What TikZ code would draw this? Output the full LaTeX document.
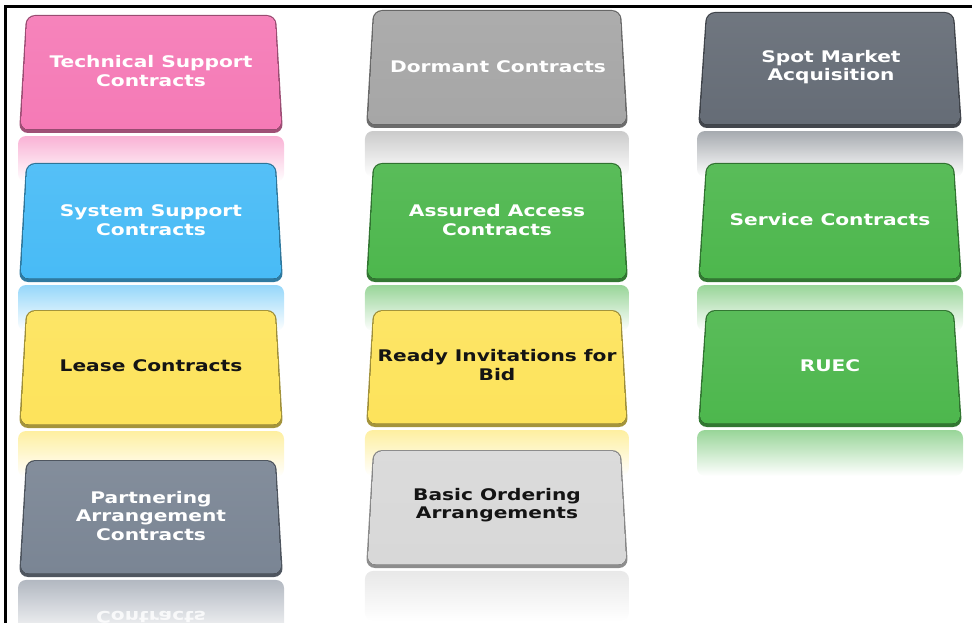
\documentclass[tikz,border=0pt]{standalone}
\usepackage{fontspec}
\setmainfont{DejaVu Sans}
\usetikzlibrary{fadings}

\definecolor{tpink}{HTML}{F57AB6}
\definecolor{tgrey}{HTML}{A6A6A6}
\definecolor{tslate}{HTML}{656C76}
\definecolor{tblue}{HTML}{48BBF6}
\definecolor{tgreen}{HTML}{4DB74D}
\definecolor{tyellow}{HTML}{FDE35B}
\definecolor{tsteel}{HTML}{7A8594}
\definecolor{tsilver}{HTML}{D8D8D8}

% reflection under a tile: centre x, tile bottom, half width, height, colour
\newcommand\tileecho[5]{%
  \fill[#5!58!white, path fading=south, rounded corners=8pt]
    ({#1-#3-1},{#2+3+#4}) -- ({#1-#3-1},{#2+3}) -- ({#1+#3+1},{#2+3}) -- ({#1+#3+1},{#2+3+#4}) -- cycle;
}
% tile face: centre x, top, bottom, top half width, bottom half width, colour
\newcommand\tileface[6]{%
  \fill[#6!65!black, rounded corners=9pt]
    ({#1-#4},#2) -- ({#1+#4},#2) -- ({#1+#5},#3) -- ({#1-#5},#3) -- cycle;
  \fill[top color=#6!93!white, bottom color=#6, rounded corners=8pt]
    ({#1-#4+1},{#2+1}) -- ({#1+#4-1},{#2+1}) -- ({#1+#5-1.5},{#3-3.5}) -- ({#1-#5+1.5},{#3-3.5}) -- cycle;
}

\begin{document}
\begin{tikzpicture}[x=1pt,y=-1pt,
  tiletext/.style={font=\bfseries\fontsize{16}{18.5}\selectfont, align=center,
                   xscale=1.26, inner sep=0pt},
  lighttext/.style={tiletext, text=white},
  darktext/.style={tiletext, text=black!92},
  frameline/.style={line width=3.5pt, black, line join=miter}]
\useasboundingbox (0,0) rectangle (972,623);
\clip (0,0) rectangle (972,623);

% reflections
\tileecho{151}{133}{132}{46}{tpink}
\tileecho{497}{128}{131}{46}{tgrey}
\tileecho{830}{128}{132}{46}{tslate}
\tileecho{151}{282}{132}{46}{tblue}
\tileecho{497}{282}{131}{46}{tgreen}
\tileecho{830}{282}{132}{46}{tgreen}
\tileecho{151}{428}{132}{46}{tyellow}
\tileecho{497}{427}{131}{46}{tyellow}
\tileecho{830}{427}{132}{46}{tgreen}
\tileecho{151}{577}{132}{60}{tsteel}
\tileecho{497}{568}{131}{50}{tsilver}
\node[lighttext, yscale=-1, opacity=0.8] (partnerecho) at (151,617) {Contracts};

% tiles
\tileface{151}{15}{133}{125}{132}{tpink}
\tileface{497}{10}{128}{124}{131}{tgrey}
\tileface{830}{12}{128}{124}{132}{tslate}
\tileface{151}{163}{282}{125}{132}{tblue}
\tileface{497}{163}{282}{124}{131}{tgreen}
\tileface{830}{163}{282}{124}{132}{tgreen}
\tileface{151}{310}{428}{125}{132}{tyellow}
\tileface{497}{310}{427}{124}{131}{tyellow}
\tileface{830}{310}{427}{124}{132}{tgreen}
\tileface{151}{460}{577}{125}{132}{tsteel}
\tileface{497}{450}{568}{124}{131}{tsilver}

% labels
\node[lighttext] (tech)    at (151,71)  {Technical Support\\Contracts};
\node[lighttext] (dormant) at (498,67)  {Dormant Contracts};
\node[lighttext] (spot)    at (831,67)  {Spot Market\\Acquisition};
\node[lighttext] (system)  at (151,220) {System Support\\Contracts};
\node[lighttext] (assured) at (497,220) {Assured Access\\Contracts};
\node[lighttext] (service) at (830,220) {Service Contracts};
\node[darktext]  (lease)   at (151,366) {Lease Contracts};
\node[darktext]  (ready)   at (497,365) {Ready Invitations for\\Bid};
\node[lighttext] (ruec)    at (830,366) {RUEC};
\node[lighttext] (partner) at (151,516) {Partnering\\Arrangement\\Contracts};
\node[darktext]  (basic)   at (497,505) {Basic Ordering\\Arrangements};

% frame
\draw[frameline] (5.5,623) -- (5.5,6.5) -- (972,6.5);
\end{tikzpicture}
\end{document}
